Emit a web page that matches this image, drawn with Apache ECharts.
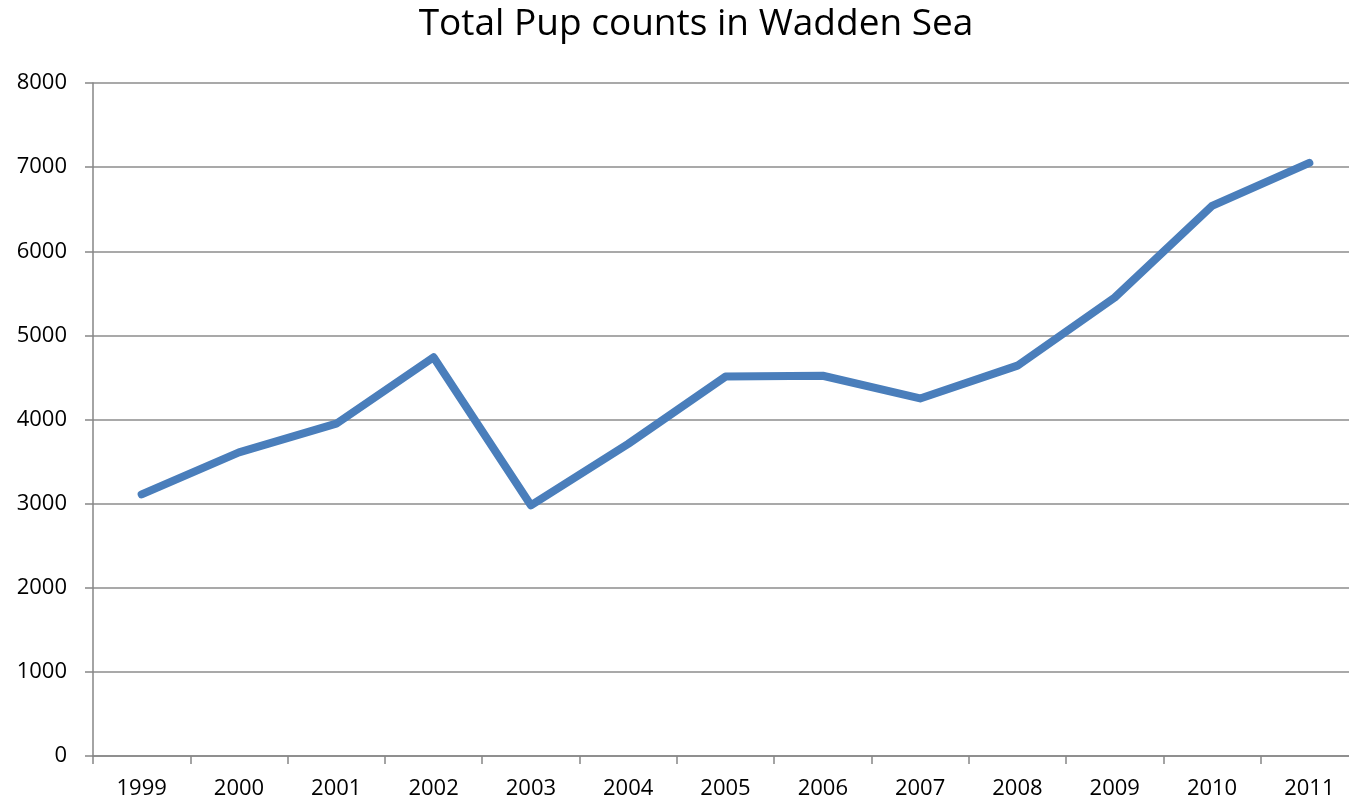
<!DOCTYPE html>
<html lang="en">
  <head>
    <meta charset="utf-8" />
    <title>Total Pup counts in Wadden Sea</title>
    <script src="https://cdn.jsdelivr.net/npm/echarts@6/dist/echarts.min.js"></script>
    <style>
      html, body { margin: 0; padding: 0; background: #fff; overflow: hidden; }
      /* plot runs a little past the right edge of the window, like the original */
      #main { width: 1358px; height: 803px; }
    </style>
  </head>
  <body>
    <div id="main"></div>
  </body>
  <script>
    // yearly pup counts
    let years = ['1999', '2000', '2001', '2002', '2003', '2004', '2005', '2006', '2007', '2008', '2009', '2010', '2011'];
    let pups = [3110, 3610, 3950, 4740, 2980, 3710, 4510, 4520, 4250, 4640, 5450, 6540, 7050];
    let yTicks = [0, 1000, 2000, 3000, 4000, 5000, 6000, 7000, 8000];

    let main = echarts.init(document.getElementById('main'));
    let option = {
        animation: false,
        title: {
            text: 'Total Pup counts in Wadden Sea',
            left: 691,
            top: 1,
            textAlign: 'center',
            textStyle: {
                fontFamily: 'Open Sans',
                fontSize: 37,
                fontWeight: 'normal',
                color: '#000'
            }
        },
        grid: {
            left: 93,
            right: 0,
            top: 83,
            bottom: 47,
            containLabel: false
        },
        xAxis: {
            type: 'category',
            data: years,
            boundaryGap: true,
            axisLine: { lineStyle: { color: '#868686', width: 1.5 } },
            axisTick: { show: true, length: 8, inside: false, lineStyle: { color: '#868686', width: 1.5 } },
            axisLabel: {
                fontFamily: 'Open Sans',
                fontSize: 22,
                color: '#000',
                margin: 22
            }
        },
        yAxis: {
            type: 'value',
            min: yTicks[0],
            max: yTicks[yTicks.length - 1],
            interval: 1000,
            axisLine: { show: true, lineStyle: { color: '#868686', width: 1.5 } },
            axisTick: { show: true, length: 8, lineStyle: { color: '#868686', width: 1.5 } },
            splitLine: { lineStyle: { color: '#8c8c8c', width: 1.5 } },
            axisLabel: {
                fontFamily: 'Open Sans',
                fontSize: 22,
                color: '#000',
                margin: 26,
                formatter: function (v) { return String(v); }
            }
        },
        series: [{
            name: 'Pups',
            type: 'line',
            data: pups,
            symbol: 'none',
            lineStyle: { color: '#4a7ebb', width: 8, cap: 'round', join: 'round' }
        }]
    };
    main.setOption(option);
  </script>
</html>
